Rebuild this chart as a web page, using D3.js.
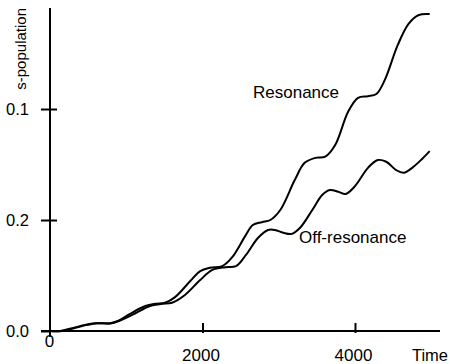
<!DOCTYPE html>
<html>
<head>
<meta charset="utf-8">
<script src="https://cdn.jsdelivr.net/npm/d3@7"></script>
<style>
  body { margin: 0; background: #fff; }
  svg { display: block; font-family: "Liberation Sans", Arial, sans-serif; }
</style>
</head>
<body>
<div id="chart"></div>
<script>
// data
const resonanceTime = [0, 130, 260, 460, 590, 790, 890, 1050, 1250, 1380, 1510, 1640, 1840, 1970, 2100, 2260, 2390, 2560, 2660, 2780, 2890, 3020, 3210, 3340, 3480, 3610, 3740, 3910, 4040, 4170, 4280, 4390, 4560, 4700, 4830, 4980]
const resonanceValue = [0, 0, 0.004, 0.011, 0.014, 0.014, 0.018, 0.031, 0.045, 0.049, 0.051, 0.061, 0.090, 0.108, 0.114, 0.117, 0.133, 0.171, 0.191, 0.196, 0.200, 0.218, 0.272, 0.303, 0.312, 0.314, 0.335, 0.395, 0.420, 0.423, 0.427, 0.452, 0.515, 0.553, 0.569, 0.571]

const offTime = [0, 160, 290, 490, 620, 810, 940, 1120, 1310, 1470, 1600, 1770, 1970, 2130, 2300, 2440, 2570, 2730, 2860, 2950, 3060, 3170, 3280, 3440, 3570, 3670, 3780, 3880, 4000, 4170, 4300, 4410, 4540, 4640, 4750, 4880, 4980]
const offValue = [0, 0, 0.004, 0.011, 0.014, 0.014, 0.020, 0.032, 0.045, 0.049, 0.051, 0.065, 0.092, 0.110, 0.115, 0.117, 0.137, 0.168, 0.182, 0.182, 0.177, 0.175, 0.186, 0.218, 0.245, 0.254, 0.251, 0.247, 0.261, 0.294, 0.308, 0.305, 0.290, 0.285, 0.294, 0.310, 0.324]

const xTicks = [0, 2000, 4000]
const xTickLabels = ["0", "2000", "4000"]
const yTicks = [0, 0.2, 0.4]
const yTickLabels = ["0.0", "0.2", "0.1"]

const width = 450
const height = 364

const svg = d3.select("#chart")
  .append("svg")
  .attr("width", width)
  .attr("height", height)

const x = d3.scaleLinear()
  .domain([0, 5115])
  .range([50, 440])

const y = d3.scaleLinear()
  .domain([0, 0.582])
  .range([331, 8])

// y axis
const yAxisGroup = svg.append("g")
  .attr("transform", `translate(${x(0)}, 0)`)
  .call(d3.axisLeft(y)
    .tickValues(yTicks)
    .tickFormat((d, i) => yTickLabels[i])
    .tickSizeOuter(0)
    .tickSizeInner(9)
    .tickPadding(12))

yAxisGroup.select(".domain").remove()
yAxisGroup.selectAll(".tick line")
  .attr("x1", d => d === 0 ? 0 : 7)
  .attr("stroke-width", 2)
  .attr("stroke", "#000")
yAxisGroup.selectAll(".tick text")
  .attr("font-size", 16.5)
  .attr("fill", "#000")
  .attr("font-family", "Liberation Sans, Arial, sans-serif")

svg.append("line")
  .attr("x1", x(0))
  .attr("x2", x(0))
  .attr("y1", y.range()[1])
  .attr("y2", y(0) + 6)
  .attr("stroke", "#000")
  .attr("stroke-width", 2)

// x axis
const xAxisGroup = svg.append("g")
  .attr("transform", `translate(0, ${y(0)})`)
  .call(d3.axisBottom(x)
    .tickValues(xTicks)
    .tickFormat((d, i) => xTickLabels[i])
    .tickSizeOuter(0)
    .tickSizeInner(2))

xAxisGroup.select(".domain").remove()
xAxisGroup.selectAll(".tick line")
  .attr("y1", -8)
  .attr("y2", 2)
  .attr("stroke", "#000")
  .attr("stroke-width", 2)
  .attr("display", d => d === 0 ? "none" : null)
xAxisGroup.selectAll(".tick text")
  .attr("font-size", 17)
  .attr("fill", "#000")
  .attr("font-family", "Liberation Sans, Arial, sans-serif")
  .attr("dy", null)
  .attr("y", d => d === 0 ? 16 : 30)
  .attr("x", d => d === 0 ? -1 : -2)

svg.append("line")
  .attr("x1", x(0) - 9)
  .attr("x2", x.range()[1])
  .attr("y1", y(0))
  .attr("y2", y(0))
  .attr("stroke", "#000")
  .attr("stroke-width", 2)

svg.append("text")
  .attr("x", 448)
  .attr("y", y(0) + 30)
  .attr("text-anchor", "end")
  .attr("font-size", 16.5)
  .text("Time")

// y label
svg.append("text")
  .attr("transform", "translate(26, 8) rotate(-90)")
  .attr("text-anchor", "end")
  .attr("font-size", 15)
  .text("s-population")

// curves
const line = d3.line()
  .x(d => x(d[0]))
  .y(d => y(d[1]))
  .curve(d3.curveCatmullRom)

const resonance = d3.zip(resonanceTime, resonanceValue)
const offResonance = d3.zip(offTime, offValue)

svg.selectAll("path.curve")
  .data([resonance, offResonance])
  .enter()
  .append("path")
  .attr("class", "curve")
  .attr("d", line)
  .attr("fill", "none")
  .attr("stroke", "#000")
  .attr("stroke-width", 2)

// labels
svg.append("text")
  .attr("x", 253)
  .attr("y", 98)
  .attr("font-size", 17)
  .text("Resonance")

svg.append("text")
  .attr("x", 299)
  .attr("y", 243)
  .attr("font-size", 17)
  .text("Off-resonance")
</script>
</body>
</html>
